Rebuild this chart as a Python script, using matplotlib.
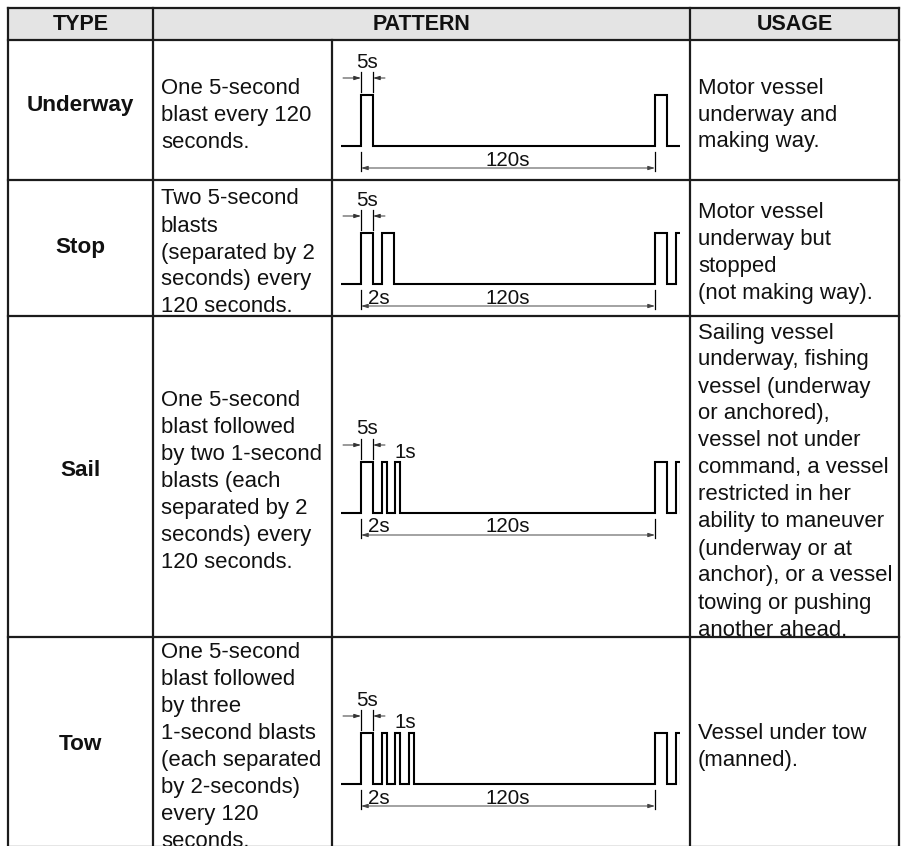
import numpy as np
import matplotlib
matplotlib.use("Agg")
import matplotlib.pyplot as plt
from matplotlib.patches import Rectangle

plt.rcParams['font.family'] = ['Liberation Sans', 'DejaVu Sans']

# Table content
headers = ["TYPE", "PATTERN", "USAGE"]
types = ["Underway", "Stop", "Sail", "Tow"]
descriptions = [
    "One 5-second\nblast every 120\nseconds.",
    "Two 5-second\nblasts\n(separated by 2\nseconds) every\n120 seconds.",
    "One 5-second\nblast followed\nby two 1-second\nblasts (each\nseparated by 2\nseconds) every\n120 seconds.",
    "One 5-second\nblast followed\nby three\n1-second blasts\n(each separated\nby 2-seconds)\nevery 120\nseconds.",
]
usages = [
    "Motor vessel\nunderway and\nmaking way.",
    "Motor vessel\nunderway but\nstopped\n(not making way).",
    "Sailing vessel\nunderway, fishing\nvessel (underway\nor anchored),\nvessel not under\ncommand, a vessel\nrestricted in her\nability to maneuver\n(underway or at\nanchor), or a vessel\ntowing or pushing\nanother ahead.",
    "Vessel under tow\n(manned).",
]
# blast durations (s) per signal, gap between blasts and period (s)
blasts = [[5], [5, 5], [5, 1, 1], [5, 1, 1, 1]]
gap_s = 2
period_s = 120
gap_label = [None, "2s", "2s", "2s"]
short_label = [None, None, "1s", "1s"]

# layout (pixel coordinates)
W, H = 901, 846
col_x = [8, 153, 332, 690, 899]
row_y = [8, 40, 180, 316, 637, 847]
type_y = [105, 248, 471, 745]
wave_base = [146, 284, 513, 784]
pulse_h = 51
x0 = 361           # start of first blast
px_per_s = 294 / period_s
line_pitch = 27
fs = 15.9
fs_small = 14.8
ink = '#111111'
grid = '#1c1c1c'


def blast_px(d):
    # schematic width, not to scale
    return 1.75 * d + 3.25


fig = plt.figure(figsize=(W / 100, H / 100), dpi=100)
ax = fig.add_axes([0, 0, 1, 1])
ax.set_xlim(0, W)
ax.set_ylim(H, 0)
ax.axis('off')

# header background
ax.add_patch(Rectangle((col_x[0], row_y[0]), col_x[-1] - col_x[0], row_y[1] - row_y[0],
                       facecolor='#e4e4e4', edgecolor='none', zorder=0))

# grid lines
for y in row_y:
    ax.plot([col_x[0], col_x[-1]], [y, y], color=grid, lw=1.6, solid_capstyle='projecting')
for x in [col_x[0], col_x[1], col_x[3], col_x[4]]:
    ax.plot([x, x], [row_y[0], row_y[-1]], color=grid, lw=1.6)
ax.plot([col_x[2], col_x[2]], [row_y[1], row_y[-1]], color=grid, lw=1.6)

# header text
hy = (row_y[0] + row_y[1]) / 2 + 1
ax.text((col_x[0] + col_x[1]) / 2, hy, headers[0], ha='center', va='center',
        fontsize=15.5, fontweight='bold', color=ink)
ax.text((col_x[1] + col_x[3]) / 2, hy, headers[1], ha='center', va='center',
        fontsize=15.5, fontweight='bold', color=ink)
ax.text((col_x[3] + col_x[4]) / 2, hy, headers[2], ha='center', va='center',
        fontsize=15.5, fontweight='bold', color=ink)


def block(x, yc, txt):
    lines = txt.split("\n")
    n = len(lines)
    for i, ln in enumerate(lines):
        yb = yc + (i - (n - 1) / 2) * line_pitch + 10.5
        ax.text(x, yb, ln, ha='left', va='baseline', fontsize=fs, color=ink)


for r in range(4):
    top, bot = row_y[r + 1], row_y[r + 2]
    yc = (top + bot) / 2
    ax.text((col_x[0] + col_x[1]) / 2, type_y[r], types[r], ha='center', va='center',
            fontsize=16.2, fontweight='bold', color=ink)
    block(col_x[1] + 8, yc, descriptions[r])
    block(col_x[3] + 8, yc, usages[r])

    # waveform
    B = wave_base[r]
    T = B - pulse_h
    xs, ys = [x0 - 20], [B]
    for cstart in (x0, x0 + period_s * px_per_s):
        x = cstart
        for i, d in enumerate(blasts[r]):
            if i > 0:
                x += gap_s * 4.25
            w = blast_px(d)
            xs += [x, x, x + w, x + w]
            ys += [B, T, T, B]
            x += w
    xs.append(700)
    ys.append(B)
    ln, = ax.plot(xs, ys, color='black', lw=1.5, solid_joinstyle='miter')
    ln.set_clip_path(Rectangle((x0 - 20, 0), 338.5, H, transform=ax.transData))

    # 5s dimension
    w5 = blast_px(blasts[r][0])
    for xt in (x0, x0 + w5):
        ax.plot([xt, xt], [T - 23, T - 3], color='black', lw=0.9)
    ax.annotate("", xy=(x0, T - 17), xytext=(x0 - 18, T - 17),
                arrowprops=dict(arrowstyle='-|>,head_length=0.4,head_width=0.12',
                                color='#333333', lw=0.7, shrinkA=0, shrinkB=0))
    ax.annotate("", xy=(x0 + w5, T - 17), xytext=(x0 + w5 + 12, T - 17),
                arrowprops=dict(arrowstyle='-|>,head_length=0.4,head_width=0.12',
                                color='#333333', lw=0.7, shrinkA=0, shrinkB=0))
    ax.text(x0 + w5 / 2, T - 33, "5s", ha='center', va='center', fontsize=fs_small, color=ink)
    if short_label[r]:
        ax.text(x0 + 44, T - 10, short_label[r], ha='center', va='center',
                fontsize=fs_small, color=ink)

    # 120s dimension
    x1 = x0 + period_s * px_per_s
    for xt in (x0, x1):
        ax.plot([xt, xt], [B + 6, B + 25], color='black', lw=0.9)
    ax.annotate("", xy=(x1, B + 22), xytext=(x0, B + 22),
                arrowprops=dict(arrowstyle='<|-|>,head_length=0.4,head_width=0.12',
                                color='#444444', lw=0.7, shrinkA=0, shrinkB=0))
    ax.text((x0 + x1) / 2, B + 14, f"{period_s}s", ha='center', va='center',
            fontsize=fs_small, color=ink)
    if gap_label[r]:
        ax.text(x0 + 18, B + 14, gap_label[r], ha='center', va='center',
                fontsize=fs_small, color=ink)

fig.savefig("out.png", dpi=100)
